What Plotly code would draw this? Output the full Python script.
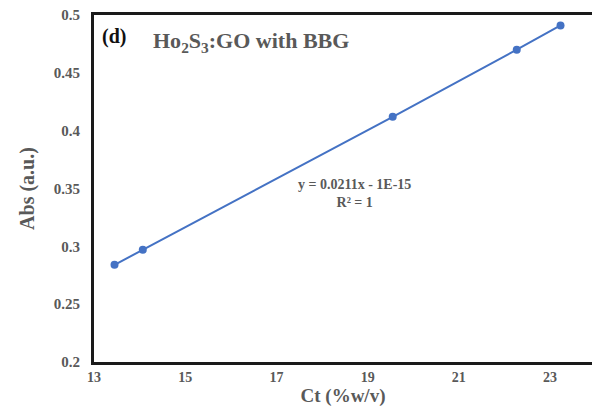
import plotly.graph_objects as go

ct = [13.45, 14.07, 19.55, 22.27, 23.23]
absorb = [0.284, 0.297, 0.412, 0.470, 0.491]
x_ticks = [13, 15, 17, 19, 21, 23]
y_ticks = [0.2, 0.25, 0.3, 0.35, 0.4, 0.45, 0.5]
y_tick_text = ["0.2", "0.25", "0.3", "0.35", "0.4", "0.45", "0.5"]

fig = go.Figure()
fig.add_trace(go.Scatter(
    x=ct, y=absorb, mode="lines+markers",
    line=dict(color="#4472C4", width=2),
    marker=dict(color="#4472C4", size=8),
    showlegend=False,
))

font_serif = "Liberation Serif, Times New Roman, serif"
fig.update_layout(
    width=592, height=417,
    margin=dict(l=94, r=0, t=15, b=55),
    paper_bgcolor="white", plot_bgcolor="white",
    font=dict(family=font_serif, color="#595959"),
    xaxis=dict(
        range=[13, 23.92], tickvals=x_ticks, ticks="", showgrid=False, zeroline=False,
        showline=True, linecolor="#1a1a1a", linewidth=3, mirror=True,
        tickfont=dict(family=font_serif, size=14, color="#595959", weight="bold"),
        title=dict(text="<b>Ct (%w/v)</b>", font=dict(family=font_serif, size=19, color="#595959"), standoff=4),
    ),
    yaxis=dict(
        range=[0.2, 0.5], tickvals=y_ticks, ticktext=y_tick_text, ticks="", showgrid=False, zeroline=False,
        showline=True, linecolor="#1a1a1a", linewidth=3, ticklabelstandoff=8,
        tickfont=dict(family=font_serif, size=15, color="#595959", weight="bold"),
        title=dict(text="<b>Abs (a.u.)</b>", font=dict(family=font_serif, size=20, color="#595959"), standoff=14),
    ),
    annotations=[
        dict(text="<b>(d)</b>", x=0.013, y=0.977, xref="paper", yref="paper", xanchor="left", yanchor="top",
             showarrow=False, font=dict(family=font_serif, size=20, color="#111111")),
        dict(text="<b>Ho<sub>2</sub>S<sub>3</sub>:GO with BBG</b>", x=0.115, y=0.967, xref="paper", yref="paper",
             xanchor="left", yanchor="top", showarrow=False, font=dict(family=font_serif, size=22, color="#595959")),
        dict(text="<b>y = 0.0211x - 1E-15<br>R² = 1</b>", x=0.523, y=0.487, xref="paper", yref="paper",
             xanchor="center", yanchor="middle", showarrow=False, align="center",
             font=dict(family=font_serif, size=14, color="#595959")),
    ],
)

fig.write_html("out.html")
